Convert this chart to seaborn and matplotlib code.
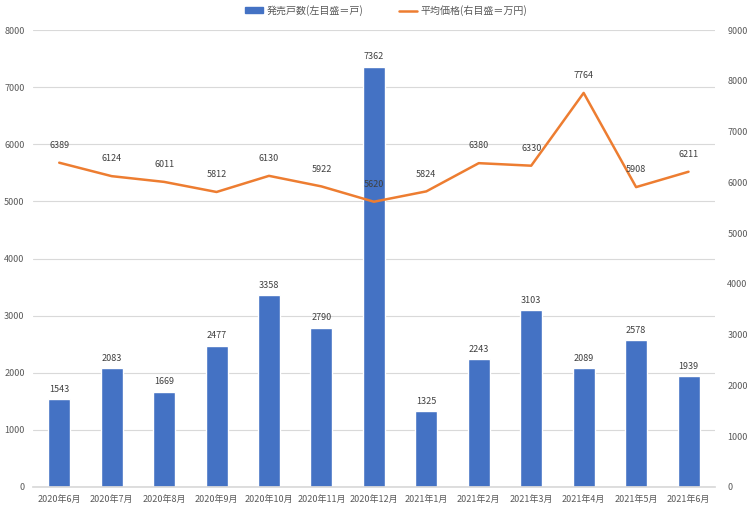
import matplotlib
matplotlib.use("Agg")
import matplotlib.pyplot as plt
import seaborn as sns
import numpy as np
import pandas as pd

months = ["2020年6月", "2020年7月", "2020年8月", "2020年9月", "2020年10月", "2020年11月",
          "2020年12月", "2021年1月", "2021年2月", "2021年3月", "2021年4月", "2021年5月", "2021年6月"]
units = [1543, 2083, 1669, 2477, 3358, 2790, 7362, 1325, 2243, 3103, 2089, 2578, 1939]
prices = [6389, 6124, 6011, 5812, 6130, 5922, 5620, 5824, 6380, 6330, 7764, 5908, 6211]
bar_label = "発売戸数(左目盛＝戸)"
line_label = "平均価格(右目盛＝万円)"

sns.set_theme(style="white")
plt.rcParams['font.family'] = ['Noto Sans CJK JP', 'DejaVu Sans']

BAR = "#4472C4"
LINE = "#ED7D31"
TICK = "#595959"
GRID = "#D9D9D9"

fig = plt.figure(figsize=(7.5, 5.12), dpi=100)
ax = fig.add_axes([0.044, 0.049, 0.909, 0.892])

df = pd.DataFrame({"month": months, "units": units, "price": prices, "x": np.arange(len(months))})

sns.barplot(data=df, x="month", y="units", color=BAR, width=0.42, saturation=1, ax=ax, zorder=2)
ax.set_ylim(0, 8000)
ax.set_yticks(range(0, 8001, 1000))
ax.yaxis.grid(True, color=GRID, linewidth=0.8, zorder=0)
ax.set_axisbelow(True)
for s in ["top", "right", "left"]:
    ax.spines[s].set_visible(False)
ax.spines["bottom"].set_color(GRID)
ax.tick_params(axis="both", length=0, labelsize=6.5, colors=TICK, pad=6)
ax.set_xlabel("")
ax.set_ylabel("")
ax.set_xlim(-0.5, len(months) - 0.5)
for i, v in enumerate(units):
    ax.text(i, v + 90, str(v), ha="center", va="bottom", fontsize=6.5, color="#404040")

ax2 = ax.twinx()
sns.lineplot(data=df, x="x", y="price", color=LINE, linewidth=1.8, ax=ax2, zorder=3)
ax2.set_ylim(0, 9000)
ax2.set_yticks(range(0, 9001, 1000))
for s in ["top", "right", "left", "bottom"]:
    ax2.spines[s].set_visible(False)
ax2.tick_params(axis="y", length=0, labelsize=6.5, colors=TICK, pad=9)
ax2.set_xlabel("")
ax2.set_ylabel("")
ax2.set_xlim(-0.5, len(months) - 0.5)
for i, v in enumerate(prices):
    ax2.text(i, v + 250, str(v), ha="center", va="bottom", fontsize=6.5, color="#404040")

from matplotlib.patches import Patch
from matplotlib.lines import Line2D
handles = [Patch(color=BAR, label=bar_label), Line2D([0], [0], color=LINE, lw=1.8, label=line_label)]
fig.legend(handles=handles, loc="upper center", bbox_to_anchor=(0.515, 1.008), ncol=2, frameon=False,
           fontsize=7.2, labelcolor=TICK, handlelength=1.8, handleheight=0.45, handletextpad=0.4,
           columnspacing=3.5)

fig.savefig("out.png", dpi=100)
